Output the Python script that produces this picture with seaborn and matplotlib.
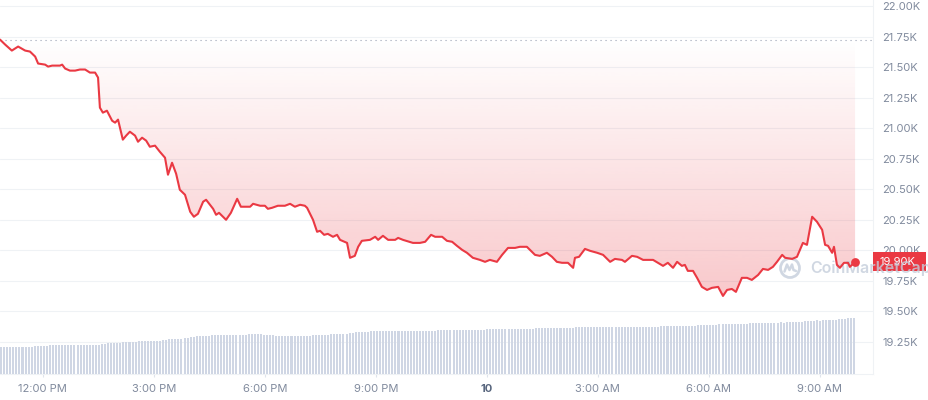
import numpy as np
import pandas as pd
import matplotlib
matplotlib.use("Agg")
import matplotlib.pyplot as plt
import matplotlib.transforms as mtransforms
from matplotlib.patches import Rectangle, Circle
from matplotlib.path import Path
import seaborn as sns

# ---------------- data ----------------
# hours since 00:00 of the first day (day 9); 24 = midnight of the 10th
hours = [10.84, 10.98, 11.16, 11.33, 11.52, 11.65, 11.79, 11.87, 12.06, 12.14,
         12.25, 12.46, 12.52, 12.60, 12.73, 12.87, 13.00, 13.14, 13.27, 13.41,
         13.49, 13.54, 13.62, 13.73, 13.87, 13.95, 14.03, 14.16, 14.25, 14.35,
         14.49, 14.57, 14.68, 14.79, 14.89, 15.03, 15.16, 15.30, 15.38, 15.49,
         15.60, 15.70, 15.84, 15.98, 16.08, 16.19, 16.33, 16.41, 16.60, 16.68,
         16.76, 16.95, 17.08, 17.25, 17.35, 17.60, 17.68, 17.87, 18.00, 18.08,
         18.19, 18.35, 18.54, 18.68, 18.81, 18.95, 19.08, 19.14, 19.30, 19.41,
         19.49, 19.60, 19.70, 19.84, 19.95, 20.03, 20.22, 20.30, 20.43, 20.52,
         20.62, 20.84, 20.98, 21.06, 21.19, 21.33, 21.52, 21.60, 21.73, 22.00,
         22.19, 22.33, 22.49, 22.60, 22.79, 22.92, 23.06, 23.19, 23.33, 23.46,
         23.62, 23.81, 23.95, 24.08, 24.27, 24.41, 24.57, 24.76, 24.89, 25.08,
         25.30, 25.43, 25.62, 25.76, 25.89, 26.03, 26.19, 26.33, 26.38, 26.49,
         26.65, 26.79, 26.98, 27.14, 27.33, 27.46, 27.65, 27.73, 27.92, 28.06,
         28.22, 28.33, 28.49, 28.62, 28.76, 28.89, 29.03, 29.14, 29.27, 29.35,
         29.43, 29.57, 29.68, 29.81, 29.95, 30.08, 30.25, 30.38, 30.49, 30.62,
         30.73, 30.89, 31.03, 31.16, 31.33, 31.46, 31.60, 31.73, 31.84, 31.98,
         32.06, 32.25, 32.38, 32.46, 32.54, 32.65, 32.79, 32.92, 33.06, 33.14,
         33.22, 33.33, 33.38, 33.46, 33.54, 33.65, 33.76, 33.81, 33.95]

price_k = [21.725, 21.684, 21.635, 21.668, 21.635, 21.627, 21.586, 21.529, 21.520, 21.504,
           21.512, 21.512, 21.520, 21.488, 21.471, 21.471, 21.480, 21.480, 21.455, 21.455,
           21.414, 21.168, 21.127, 21.143, 21.061, 21.045, 21.070, 20.906, 20.939, 20.971,
           20.939, 20.889, 20.922, 20.898, 20.848, 20.857, 20.807, 20.758, 20.619, 20.717,
           20.627, 20.496, 20.455, 20.316, 20.275, 20.299, 20.398, 20.414, 20.340, 20.291,
           20.307, 20.250, 20.307, 20.422, 20.357, 20.357, 20.381, 20.365, 20.365, 20.340,
           20.348, 20.365, 20.365, 20.381, 20.357, 20.373, 20.365, 20.348, 20.250, 20.152,
           20.160, 20.127, 20.135, 20.111, 20.127, 20.086, 20.061, 19.939, 19.955, 20.029,
           20.078, 20.086, 20.111, 20.086, 20.119, 20.086, 20.086, 20.102, 20.086, 20.061,
           20.061, 20.070, 20.127, 20.111, 20.111, 20.078, 20.070, 20.037, 20.004, 19.980,
           19.939, 19.922, 19.906, 19.922, 19.906, 19.963, 20.020, 20.020, 20.029, 20.029,
           19.963, 19.955, 19.980, 19.947, 19.906, 19.898, 19.898, 19.857, 19.939, 19.947,
           20.012, 19.996, 19.980, 19.963, 19.906, 19.930, 19.922, 19.906, 19.955, 19.947,
           19.922, 19.922, 19.922, 19.898, 19.873, 19.898, 19.857, 19.906, 19.873, 19.881,
           19.832, 19.832, 19.775, 19.701, 19.676, 19.693, 19.701, 19.627, 19.676, 19.684,
           19.660, 19.775, 19.775, 19.758, 19.799, 19.848, 19.840, 19.865, 19.906, 19.963,
           19.939, 19.930, 19.947, 20.004, 20.061, 20.045, 20.275, 20.234, 20.168, 20.045,
           20.037, 19.980, 20.029, 19.881, 19.857, 19.898, 19.898, 19.865, 19.906]

open_price_k = 21.725
last_price_label = "19.90K"

# volume bars (relative heights), as runs of equal-height bars
volume_levels = [27, 28, 29, 30, 31, 32, 33, 34, 35, 36,
                 37, 38, 39, 40, 39, 38, 39, 40, 41, 42,
                 43, 44, 45, 46, 47, 48, 49, 50, 51, 52,
                 51, 52, 53, 54, 53, 54, 55, 56]
volume_counts = [11, 5, 17, 2, 5, 5, 8, 2, 5, 2,
                 2, 5, 12, 5, 4, 12, 6, 6, 2, 5,
                 22, 16, 16, 13, 28, 12, 7, 10, 10, 1,
                 1, 6, 4, 1, 1, 5, 3, 3]
volume_start_hour = 10.87
volume_end_hour = 33.92

ytick_vals = [19.25, 19.50, 19.75, 20.00, 20.25, 20.50, 20.75, 21.00, 21.25, 21.50, 21.75, 22.00]
ytick_labels = ["19.25K", "19.50K", "19.75K", "20.00K", "20.25K", "20.50K",
                "20.75K", "21.00K", "21.25K", "21.50K", "21.75K", "22.00K"]
xtick_hours = [12, 15, 18, 21, 24, 27, 30, 33]
xtick_labels = ["12:00 PM", "3:00 PM", "6:00 PM", "9:00 PM", "10", "3:00 AM", "6:00 AM", "9:00 AM"]

# ---------------- style ----------------
RED = "#ea3943"
GRID = "#eff2f5"
LABEL = "#808a9d"
VOLC = "#cfd6e4"

sns.set_theme(style="white")
plt.rcParams["font.family"] = ["Inter", "DejaVu Sans"]

W, H = 929, 400
fig = plt.figure(figsize=(W / 100, H / 100), dpi=100)
ax_right_px = 873
ax_bottom_px = 374
ax = fig.add_axes([0, (H - ax_bottom_px) / H, ax_right_px / W, ax_bottom_px / H])
ax2 = ax.twinx()

xlim = (10.84, 10.84 + ax_right_px / 37.0)
ylim = (18.988, 22.049)

# volume bars on the twin axis
volume = np.repeat(volume_levels, volume_counts)
bar_t = np.linspace(volume_start_hour, volume_end_hour, len(volume))
step = bar_t[1] - bar_t[0]
ax2.bar(bar_t, volume, width=step * 0.66, color=VOLC, linewidth=0, align="center")
ax2.set_ylim(0, ax_bottom_px)
ax2.set_yticks([])
for s in ax2.spines.values():
    s.set_visible(False)
ax2.patch.set_visible(False)

# price line
df = pd.DataFrame({"hour": hours, "price": price_k})
sns.lineplot(data=df, x="hour", y="price", ax=ax, color=RED, linewidth=1.5, zorder=8)

# gradient fill between open price and line
poly = ax.fill_between(df["hour"], df["price"], open_price_k, color="none", linewidth=0)
clip = Path.make_compound_path(*poly.get_paths())
img = np.zeros((256, 1, 4))
img[..., 0] = 234 / 255
img[..., 1] = 57 / 255
img[..., 2] = 67 / 255
img[:, 0, 3] = np.linspace(0.36, 0.0, 256)
im = ax.imshow(img, extent=[hours[0], hours[-1], ylim[0], open_price_k], origin="lower",
               aspect="auto", interpolation="bicubic", zorder=1)
im.set_clip_path(clip, transform=ax.transData)

# open price dotted line
ax.axhline(open_price_k, color="#9aa2b5", linewidth=0.8, linestyle=(0, (1, 3.5)), zorder=3)

# end marker
ax.scatter([hours[-1]], [price_k[-1]], s=40, color=RED, zorder=9, linewidths=0)

# price label box on the right axis
blend = mtransforms.blended_transform_factory(ax.transAxes, ax.transData)
box_h = 19 / 122.18
ax.add_patch(Rectangle((1.0, price_k[-1] - box_h / 2), 53 / ax_right_px, box_h,
                       transform=blend, color=RED, clip_on=False, zorder=6, linewidth=0))
ax.text(1.0 + 7 / ax_right_px, price_k[-1] - 0.005, last_price_label, transform=blend,
        ha="left", va="center", color="white", fontsize=8, zorder=6.5, clip_on=False)

# watermark
wm_col = "#c5cedb"
ax.text(810 / W, 1 - 268 / H, "CoinMarketCap", transform=fig.transFigure, ha="left", va="center",
        fontsize=11.5, fontweight="semibold", color=wm_col, alpha=0.8, zorder=7, clip_on=False)
cx, cy = 7.90, (H - 268) / 100
ax.add_patch(Circle((cx, cy), 0.095, transform=fig.dpi_scale_trans, fill=False,
                    edgecolor=wm_col, linewidth=2.0, alpha=0.8, zorder=7, clip_on=False))
zz_x = [cx - 0.055, cx - 0.03, cx - 0.005, cx + 0.02, cx + 0.035, cx + 0.06]
zz_y = [cy - 0.035, cy + 0.035, cy - 0.02, cy + 0.035, cy - 0.02, cy - 0.03]
ax.plot(zz_x, zz_y, transform=fig.dpi_scale_trans, color=wm_col, linewidth=1.8,
        alpha=0.8, zorder=7, clip_on=False, solid_joinstyle="round")

# axes formatting
ax.set_xlim(*xlim)
ax.set_ylim(*ylim)
ax.yaxis.tick_right()
ax.set_yticks(ytick_vals)
ax.set_yticklabels(ytick_labels)
ax.set_xticks(xtick_hours)
ax.set_xticklabels(xtick_labels)
ax.xaxis.set_visible(True)
ax.tick_params(axis="y", length=0, pad=6.5, labelsize=8, labelcolor=LABEL)
ax.tick_params(axis="x", bottom=True, labelbottom=True, length=2.5, width=0.8,
               color="#dfe4ec", pad=4.5, labelsize=8, labelcolor=LABEL)
for lbl in ax.get_xticklabels():
    if lbl.get_text() == "10":
        lbl.set_fontweight("bold")
        lbl.set_color("#58667e")
ax.grid(axis="y", color=GRID, linewidth=0.75)
ax.grid(axis="x", visible=False)
ax.set_axisbelow(True)
ax.set_xlabel("")
ax.set_ylabel("")
for side in ["top", "left"]:
    ax.spines[side].set_visible(False)
ax.spines["bottom"].set_color(GRID)
ax.spines["right"].set_color(GRID)
ax.spines["bottom"].set_linewidth(0.75)
ax.spines["right"].set_linewidth(0.75)
ax.patch.set_visible(False)

fig.savefig("out.png", dpi=100)
